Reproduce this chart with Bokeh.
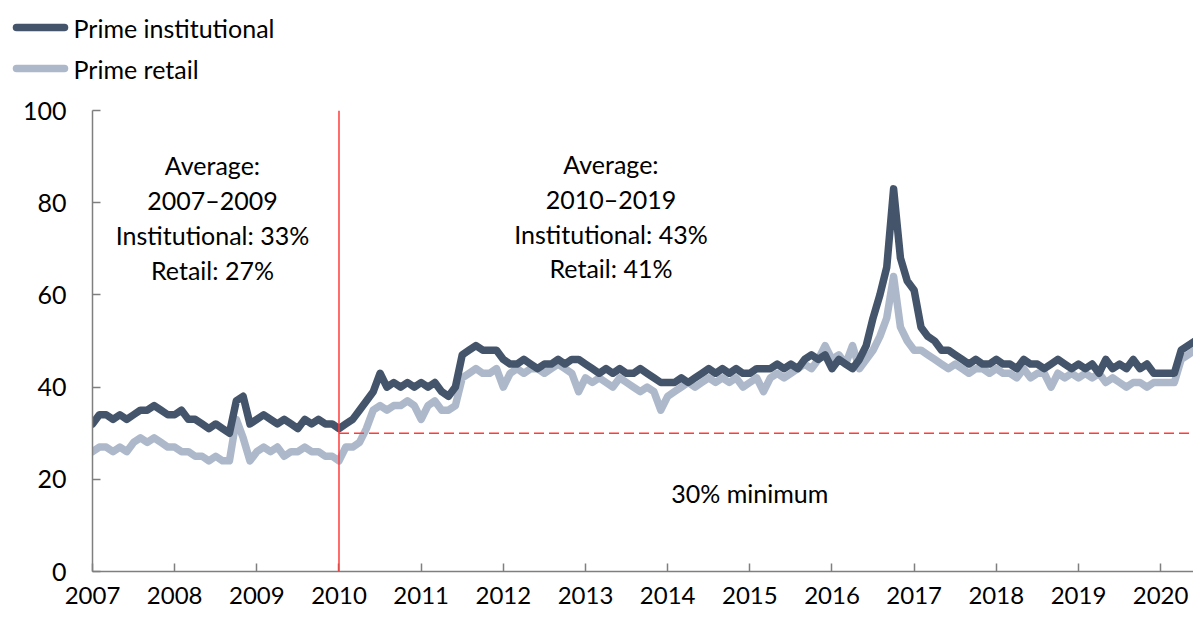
from bokeh.plotting import figure
from bokeh.models import Label, Span, FixedTicker, Range1d
from bokeh.core.properties import value
from bokeh.embed import file_html
from bokeh.resources import INLINE
import numpy as np

# Monthly values (percent), starting January 2007
institutional = [
    32, 34, 34, 33, 34, 33, 34, 35, 35, 36, 35, 34,   # 2007
    34, 35, 33, 33, 32, 31, 32, 31, 30, 37, 38, 32,   # 2008
    33, 34, 33, 32, 33, 32, 31, 33, 32, 33, 32, 32,   # 2009
    31, 32, 33, 35, 37, 39, 43, 40, 41, 40, 41, 40,   # 2010
    41, 40, 41, 39, 38, 40, 47, 48, 49, 48, 48, 48,   # 2011
    46, 45, 45, 46, 45, 44, 45, 45, 46, 45, 46, 46,   # 2012
    45, 44, 43, 44, 43, 44, 43, 43, 44, 43, 42, 41,   # 2013
    41, 41, 42, 41, 42, 43, 44, 43, 44, 43, 44, 43,   # 2014
    43, 44, 44, 44, 45, 44, 45, 44, 46, 47, 46, 47,   # 2015
    44, 46, 45, 44, 46, 49, 55, 60, 66, 83, 68, 63,   # 2016
    61, 53, 51, 50, 48, 48, 47, 46, 45, 46, 45, 45,   # 2017
    46, 45, 45, 44, 46, 45, 45, 44, 45, 46, 45, 44,   # 2018
    45, 44, 45, 43, 46, 44, 45, 44, 46, 44, 45, 43,   # 2019
    43, 43, 43, 48, 49, 50,                           # 2020
]
retail = [
    26, 27, 27, 26, 27, 26, 28, 29, 28, 29, 28, 27,   # 2007
    27, 26, 26, 25, 25, 24, 25, 24, 24, 33, 29, 24,   # 2008
    26, 27, 26, 27, 25, 26, 26, 27, 26, 26, 25, 25,   # 2009
    24, 27, 27, 28, 31, 35, 36, 35, 36, 36, 37, 36,   # 2010
    33, 36, 37, 35, 35, 36, 42, 43, 44, 43, 43, 44,   # 2011
    40, 43, 44, 43, 44, 44, 43, 44, 45, 44, 43, 39,   # 2012
    42, 41, 42, 41, 40, 42, 41, 40, 39, 40, 39, 35,   # 2013
    38, 39, 40, 41, 40, 41, 42, 41, 42, 41, 42, 40,   # 2014
    41, 42, 39, 42, 43, 42, 43, 44, 45, 44, 46, 49,   # 2015
    46, 47, 45, 49, 44, 46, 48, 51, 55, 64, 53, 50,   # 2016
    48, 48, 47, 46, 45, 44, 45, 44, 43, 44, 44, 43,   # 2017
    44, 43, 43, 42, 44, 42, 43, 43, 40, 43, 42, 43,   # 2018
    42, 43, 42, 43, 41, 42, 41, 40, 41, 41, 40, 41,   # 2019
    41, 41, 41, 46, 47, 48,                           # 2020
]
series_names = ["Prime institutional", "Prime retail"]
start_year = 2007
year_ticks = list(range(2007, 2021))
y_ticks = [0, 20, 40, 60, 80, 100]
min_requirement = 30
rule_change_year = 2010

dates = start_year + np.arange(len(institutional)) / 12.0

FONT = "Lato"
FS = "25px"
DARK = "#44546A"
LIGHT = "#ADB9CA"
RED = "#FF3B3B"
LW = 7.5
LEG_H = 90

# ---- legend strip: a small figure whose frame is measured in pixels ----
lg = figure(width=1193, height=LEG_H, output_backend="svg", toolbar_location=None,
            x_range=Range1d(0, 1193), y_range=Range1d(LEG_H, 0),
            min_border_left=0, min_border_right=0, min_border_top=0, min_border_bottom=0)
lg.axis.visible = False
lg.grid.visible = False
lg.outline_line_color = None
legend_colors = [DARK, LIGHT]
legend_rows = [27, 68]
lg.segment(x0=[16, 16], x1=[64, 64], y0=legend_rows, y1=legend_rows,
           line_color=legend_colors, line_width=LW, line_cap="round")
lg.text(x=[73, 73], y=legend_rows, text=series_names, text_baseline="middle",
        text_align="left", text_font=value(FONT), text_font_size=FS, text_color="black")

# ---- main chart ----
p = figure(width=1193, height=619 - LEG_H, output_backend="svg", toolbar_location=None,
           x_range=Range1d(2007, 2020.4), y_range=Range1d(0, 100),
           min_border_left=92, min_border_right=0, min_border_top=110 - LEG_H,
           min_border_bottom=48)
p.outline_line_color = None
p.xgrid.visible = False
p.ygrid.visible = False

p.line(dates, retail, line_color=LIGHT, line_width=LW, line_join="round", line_cap="round")
p.line(dates, institutional, line_color=DARK, line_width=LW, line_join="round", line_cap="round")

# reference lines
p.add_layout(Span(location=rule_change_year, dimension="height", line_color=RED, line_width=1.5))
p.line([rule_change_year, 2020.4], [min_requirement, min_requirement], line_color=RED,
       line_width=1.5, line_dash="10 5")

# axes
for ax in (p.xaxis[0], p.yaxis[0]):
    ax.axis_line_color = "#7F7F7F"
    ax.axis_line_width = 1.5
    ax.major_tick_line_color = "#7F7F7F"
    ax.major_tick_line_width = 1.5
    ax.major_tick_in = 8
    ax.major_tick_out = 0
    ax.minor_tick_line_color = None
    ax.major_label_text_font = FONT
    ax.major_label_text_font_size = FS
    ax.major_label_text_color = "black"
p.xaxis[0].ticker = FixedTicker(ticks=year_ticks)
p.yaxis[0].ticker = FixedTicker(ticks=y_ticks)
p.xaxis[0].major_label_text_font_size = "24px"
p.xaxis[0].major_label_standoff = 15
p.yaxis[0].major_label_standoff = 26

# annotations
left_text = ["Average:", "2007\u20132009", "Institutional: 33%", "Retail: 27%"]
right_text = ["Average:", "2010\u20132019", "Institutional: 43%", "Retail: 41%"]
for i, t in enumerate(left_text):
    p.add_layout(Label(x=2008.46, y=88.1 - i * 7.6, text=t, text_align="center",
                       text_baseline="middle", text_font=FONT, text_font_size=FS,
                       text_color="black"))
for i, t in enumerate(right_text):
    p.add_layout(Label(x=2013.31, y=88.3 - i * 7.5, text=t, text_align="center",
                       text_baseline="middle", text_font=FONT, text_font_size=FS,
                       text_color="black"))
p.add_layout(Label(x=2015.0, y=17.1, text="30% minimum", text_align="center",
                   text_baseline="middle", text_font=FONT, text_font_size=FS,
                   text_color="black"))

open("out.html", "w").write(file_html([lg, p], INLINE))
